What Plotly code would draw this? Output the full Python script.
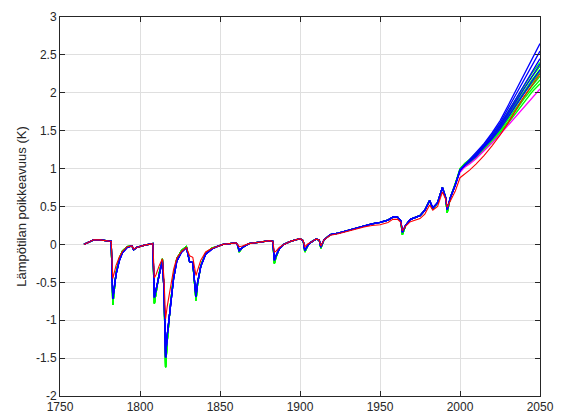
import plotly.graph_objects as go

# ---------------- data ----------------
HIST_YEARS = [1765, 1768, 1771, 1775, 1779, 1782, 1783, 1784, 1785, 1787, 1789, 1792, 1795, 1796, 1798,
              1803, 1808, 1809, 1810, 1812, 1814, 1815, 1816, 1817, 1819, 1821, 1823, 1826, 1829, 1831,
              1833, 1835, 1836, 1838, 1841, 1845, 1848, 1852, 1856, 1860, 1861, 1862, 1864, 1868, 1875,
              1881, 1883, 1884, 1885, 1887, 1890, 1894, 1900, 1902, 1903, 1905, 1907, 1910, 1912, 1913,
              1915, 1919, 1924, 1929, 1935, 1940, 1945, 1950, 1955, 1958, 1961, 1963, 1964, 1966, 1969,
              1975, 1978, 1981, 1983, 1986, 1989, 1991, 1992, 1994, 1997]

BLUE_HIST = [0.00, 0.03, 0.06, 0.06, 0.05, 0.04, -0.72, -0.52, -0.40, -0.22, -0.11, -0.04, -0.02, -0.07, -0.04,
             -0.01, 0.01, -0.70, -0.60, -0.38, -0.21, -0.60, -1.49, -1.20, -0.80, -0.45, -0.22, -0.10, -0.04, -0.23,
             -0.24, -0.69, -0.50, -0.29, -0.13, -0.06, -0.03, 0.00, 0.01, 0.02, -0.01, -0.08, -0.04, 0.01, 0.03,
             0.05, 0.04, -0.21, -0.15, -0.06, 0.00, 0.04, 0.075, 0.05, -0.08, -0.01, 0.03, 0.07, 0.06, -0.035,
             0.06, 0.13, 0.15, 0.18, 0.21, 0.25, 0.27, 0.29, 0.32, 0.36, 0.36, 0.31, 0.16, 0.25, 0.33,
             0.38, 0.45, 0.58, 0.48, 0.55, 0.75, 0.62, 0.46, 0.62, 0.78]

GREEN_HIST = [0.00, 0.03, 0.06, 0.06, 0.05, 0.04, -0.80, -0.55, -0.38, -0.19, -0.09, -0.03, -0.02, -0.07, -0.04,
              -0.01, 0.01, -0.78, -0.64, -0.38, -0.19, -0.60, -1.62, -1.28, -0.80, -0.42, -0.19, -0.08, -0.03, -0.23,
              -0.24, -0.74, -0.52, -0.28, -0.12, -0.05, -0.03, 0.00, 0.01, 0.02, -0.01, -0.10, -0.04, 0.01, 0.03,
              0.05, 0.04, -0.25, -0.17, -0.06, 0.00, 0.04, 0.075, 0.05, -0.10, -0.01, 0.03, 0.07, 0.06, -0.05,
              0.06, 0.13, 0.15, 0.18, 0.21, 0.25, 0.27, 0.29, 0.32, 0.36, 0.36, 0.31, 0.13, 0.25, 0.33,
              0.38, 0.45, 0.58, 0.46, 0.55, 0.75, 0.62, 0.42, 0.62, 0.79]

RED_HIST = [0.00, 0.03, 0.06, 0.06, 0.05, 0.04, -0.45, -0.35, -0.28, -0.17, -0.09, -0.03, -0.02, -0.06, -0.04,
            -0.01, 0.01, -0.44, -0.40, -0.28, -0.19, -0.45, -0.98, -0.82, -0.56, -0.33, -0.18, -0.09, -0.04, -0.15,
            -0.17, -0.41, -0.34, -0.21, -0.10, -0.05, -0.03, 0.00, 0.01, 0.02, 0.00, -0.03, -0.02, 0.01, 0.03,
            0.05, 0.04, -0.10, -0.09, -0.04, 0.00, 0.04, 0.075, 0.05, -0.03, 0.01, 0.03, 0.07, 0.06, -0.02,
            0.06, 0.12, 0.14, 0.17, 0.20, 0.23, 0.25, 0.26, 0.29, 0.33, 0.33, 0.29, 0.18, 0.24, 0.30,
            0.34, 0.40, 0.52, 0.45, 0.50, 0.69, 0.60, 0.49, 0.58, 0.70]

PROJ_YEARS = [2000, 2003, 2006, 2010, 2015, 2020, 2025, 2030, 2035, 2040, 2045, 2050]

GREEN_PROJ = [
    [1.00, 1.07, 1.12, 1.20, 1.32, 1.44, 1.58, 1.75, 1.93, 2.10, 2.26, 2.40],
    [1.00, 1.06, 1.11, 1.19, 1.30, 1.42, 1.56, 1.72, 1.89, 2.06, 2.21, 2.35],
    [0.99, 1.06, 1.10, 1.18, 1.29, 1.41, 1.54, 1.70, 1.86, 2.02, 2.17, 2.31],
    [0.99, 1.05, 1.10, 1.17, 1.28, 1.39, 1.52, 1.67, 1.83, 1.99, 2.13, 2.27],
    [0.98, 1.05, 1.09, 1.16, 1.27, 1.38, 1.50, 1.65, 1.80, 1.95, 2.09, 2.22],
    [0.98, 1.04, 1.08, 1.15, 1.26, 1.36, 1.48, 1.62, 1.77, 1.92, 2.05, 2.17],
    [0.97, 1.03, 1.07, 1.14, 1.24, 1.34, 1.46, 1.60, 1.74, 1.88, 2.01, 2.12],
]

BLUE_PROJ = [
    [0.98, 1.05, 1.11, 1.20, 1.33, 1.47, 1.63, 1.83, 2.03, 2.24, 2.45, 2.65],
    [0.98, 1.05, 1.10, 1.19, 1.32, 1.45, 1.60, 1.79, 1.98, 2.17, 2.36, 2.55],
    [0.98, 1.05, 1.10, 1.18, 1.30, 1.42, 1.57, 1.74, 1.92, 2.10, 2.28, 2.45],
    [0.98, 1.04, 1.09, 1.17, 1.29, 1.41, 1.55, 1.71, 1.88, 2.05, 2.22, 2.38],
    [0.97, 1.04, 1.09, 1.16, 1.28, 1.39, 1.52, 1.68, 1.84, 2.00, 2.15, 2.30],
]

RED_PROJ = [0.88, 0.93, 0.98, 1.06, 1.17, 1.30, 1.44, 1.60, 1.77, 1.95, 2.10, 2.25]
MAGENTA_PROJ = [0.95, 1.02, 1.06, 1.13, 1.23, 1.34, 1.45, 1.57, 1.69, 1.81, 1.93, 2.05]

X_TICKS = [1750, 1800, 1850, 1900, 1950, 2000, 2050]
Y_TICKS = [-2, -1.5, -1, -0.5, 0, 0.5, 1, 1.5, 2, 2.5, 3]
Y_TICK_TEXT = ["-2", "-1.5", "-1", "-0.5", "0", "0.5", "1", "1.5", "2", "2.5", "3"]
Y_TITLE = "Lämpötilan poikkeavuus (K)"

# ---------------- figure ----------------
fig = go.Figure()
years_all = HIST_YEARS + PROJ_YEARS


def add_line(hist, proj, color, width=1.3):
    fig.add_trace(go.Scatter(x=years_all, y=hist + proj, mode="lines",
                             line=dict(color=color, width=width), showlegend=False,
                             hoverinfo="skip"))


for proj in GREEN_PROJ:
    add_line(GREEN_HIST, proj, "#00ff00")
add_line(BLUE_HIST, MAGENTA_PROJ, "#ff00ff")
for proj in BLUE_PROJ:
    add_line(BLUE_HIST, proj, "#0000ff")
add_line(RED_HIST, RED_PROJ, "#ff0000", 1.1)

FONT = "Liberation Sans, Arial, sans-serif"
axis_common = dict(showline=True, linecolor="#262626", linewidth=1, mirror="ticks",
                   ticks="inside", ticklen=5, tickcolor="#262626", tickwidth=1,
                   showgrid=True, gridcolor="#dfdfdf", gridwidth=1, zeroline=False,
                   automargin=False,
                   tickfont=dict(family=FONT, size=12, color="#262626"))

fig.update_xaxes(range=[1750, 2050], tickvals=X_TICKS, ticktext=[str(v) for v in X_TICKS], **axis_common)
fig.update_yaxes(range=[-2, 3], tickvals=Y_TICKS, ticktext=Y_TICK_TEXT,
                 title=dict(text=Y_TITLE, standoff=6,
                            font=dict(family=FONT, size=13, color="#262626")),
                 **axis_common)

fig.update_layout(width=568, height=417, margin=dict(l=60, r=28, t=17, b=21),
                  paper_bgcolor="white", plot_bgcolor="white")

fig.write_html("out.html")
